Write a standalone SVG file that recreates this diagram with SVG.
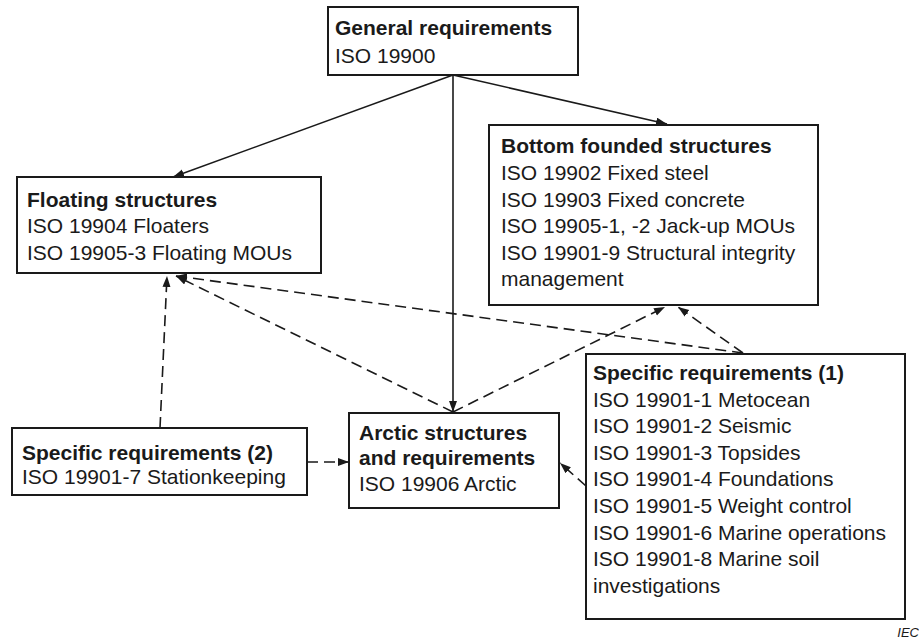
<svg xmlns="http://www.w3.org/2000/svg" width="919" height="641" viewBox="0 0 919 641">
<style>
.box{fill:#fff;stroke:#1a1a1a;stroke-width:2}
.t{font-family:"Liberation Sans",Arial,sans-serif;font-size:21px;fill:#1a1a1a}
.b{font-weight:bold}
.c{fill:none;stroke:#1a1a1a;stroke-width:1.6}
.d{stroke-dasharray:11 6}
</style>
<defs>
<marker id="ah" markerUnits="userSpaceOnUse" markerWidth="12" markerHeight="9" refX="11" refY="4" orient="auto">
<path d="M0,0 L11,4 L0,8 z" fill="#1a1a1a"/>
</marker>
</defs>
<rect width="919" height="641" fill="#fff"/>
<g id="connectors">
<path class="c" d="M453,75 L173,177" marker-end="url(#ah)"/>
<path class="c" d="M453,75 L667,124" marker-end="url(#ah)"/>
<path class="c" d="M453,75 L453,412" marker-end="url(#ah)"/>
<path class="c d" d="M453,412 L176,276" marker-end="url(#ah)"/>
<path class="c d" d="M453,412 L665,307" marker-end="url(#ah)"/>
<path class="c d" d="M743,353 L176,276" marker-end="url(#ah)"/>
<path class="c d" d="M743,353 L678,307" marker-end="url(#ah)"/>
<path class="c d" d="M586,486 L560,463" marker-end="url(#ah)"/>
<path class="c d" d="M307,462 L349,462" marker-end="url(#ah)"/>
<path class="c d" d="M160,428 L167,276" marker-end="url(#ah)"/>
</g>
<g id="general">
<rect class="box" x="328" y="7" width="250" height="68"/>
<text class="t b" x="335" y="35">General requirements</text>
<text class="t" x="335" y="63">ISO 19900</text>
</g>
<g id="floating">
<rect class="box" x="17" y="177" width="304" height="96"/>
<text class="t b" x="27" y="207">Floating structures</text>
<text class="t" x="27" y="233">ISO 19904 Floaters</text>
<text class="t" x="27" y="260">ISO 19905-3 Floating MOUs</text>
</g>
<g id="bottom">
<rect class="box" x="489" y="125" width="329" height="180"/>
<text class="t b" x="501" y="153">Bottom founded structures</text>
<text class="t" x="501" y="180">ISO 19902 Fixed steel</text>
<text class="t" x="501" y="206.5">ISO 19903 Fixed concrete</text>
<text class="t" x="501" y="233">ISO 19905-1, -2 Jack-up MOUs</text>
<text class="t" x="501" y="260">ISO 19901-9 Structural integrity</text>
<text class="t" x="501" y="286">management</text>
</g>
<g id="spec2">
<rect class="box" x="12" y="428" width="295" height="67"/>
<text class="t b" x="22" y="460">Specific requirements (2)</text>
<text class="t" x="22" y="484">ISO 19901-7 Stationkeeping</text>
</g>
<g id="arctic">
<rect class="box" x="349" y="413" width="210" height="95"/>
<text class="t b" x="359" y="440">Arctic structures</text>
<text class="t b" x="359" y="465">and requirements</text>
<text class="t" x="359" y="491">ISO 19906 Arctic</text>
</g>
<g id="spec1">
<rect class="box" x="586" y="354" width="319" height="265"/>
<text class="t b" x="593" y="380">Specific requirements (1)</text>
<text class="t" x="593" y="407">ISO 19901-1 Metocean</text>
<text class="t" x="593" y="433">ISO 19901-2 Seismic</text>
<text class="t" x="593" y="460">ISO 19901-3 Topsides</text>
<text class="t" x="593" y="486">ISO 19901-4 Foundations</text>
<text class="t" x="593" y="513">ISO 19901-5 Weight control</text>
<text class="t" x="593" y="540">ISO 19901-6 Marine operations</text>
<text class="t" x="593" y="566">ISO 19901-8 Marine soil</text>
<text class="t" x="593" y="593">investigations</text>
</g>
<text x="919" y="637" text-anchor="end" font-family="Liberation Sans,Arial,sans-serif" font-size="13" font-style="italic" fill="#1a1a1a">IEC</text>
</svg>
